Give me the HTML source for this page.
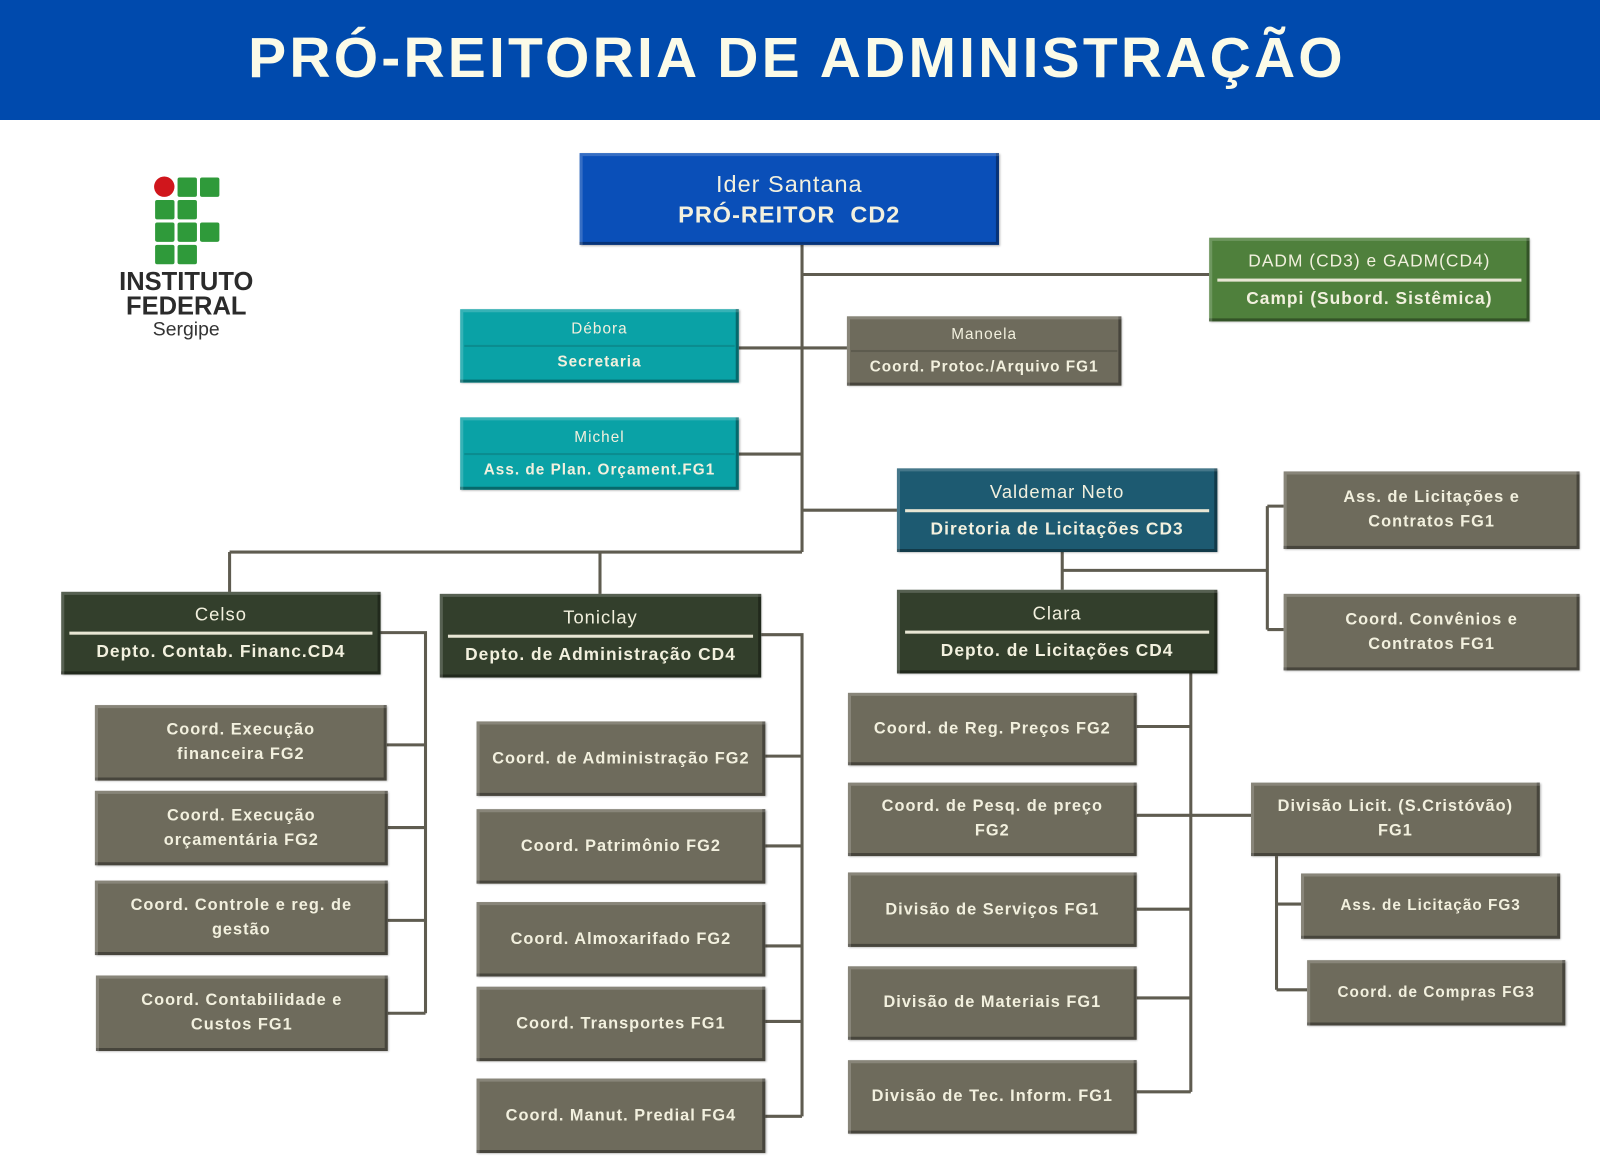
<!DOCTYPE html>
<html><head><meta charset="utf-8"><style>
body{margin:0;width:1600px;height:1156px;background:#fff;position:relative;overflow:hidden;font-family:"Liberation Sans",sans-serif}
.hdr{position:absolute;left:0;top:0;width:1600px;height:120px;background:#004aad}
.hdr div{position:absolute;left:0;right:6px;top:25px;text-align:center;color:#fbfbe8;font-size:57px;font-weight:bold;letter-spacing:3.2px}
.wrap{position:absolute;left:0;top:0;width:1568px;height:1133px;transform:scale(1.0204);transform-origin:0 0}
.b{position:absolute;box-sizing:border-box;color:#f2f0de;text-align:center;font-weight:bold;font-size:16px;letter-spacing:1px;display:flex;flex-direction:column;justify-content:center;line-height:24px;box-shadow:inset 3px 3px 0 rgba(255,255,255,.18),inset -3px -3px 0 rgba(0,0,0,.35),1px 1px 2px rgba(0,0,0,.3)}
.g{background:#6e6b5c}
.dg{background:#333f2c}
.t{background:#0aa2a6}
.bl{background:#0a4fb8}
.vb{background:#1d5a71}
.gr{background:#4f803c}
.n{font-weight:normal;font-size:18px}
.sep{height:3px;background:#e8e6d4;margin:5px 8px}
svg{position:absolute;left:0;top:0}
.sq{position:absolute;width:19px;height:19px;background:#2f9a3a;border-radius:2px}
</style></head><body>
<div class="hdr"><div>PRÓ-REITORIA DE ADMINISTRAÇÃO</div></div>
<div class="wrap">
<svg width="1568" height="1133"><g stroke="#5f5c50" stroke-width="3" fill="none">
<path d="M786 240V541M786 269H1185M724 341H830M724 445H786M786 500H879M225 541H786M225 541V580M588 541V582"/>
<path d="M373 620H417V993M379 730H417M380 811H417M380 902H417M380 993H417"/>
<path d="M746 622H786V1094M750 741H786M750 829H786M750 927H786M750 1001H786M750 1094H786"/>
<path d="M1041 541V578M1041 559H1242M1242 496V617M1242 496H1258M1242 617H1258"/>
<path d="M1167 660V1070M1114 712H1167M1114 891H1167M1114 978H1167M1114 1070H1167M1114 799H1226"/>
<path d="M1251 839V970M1251 886H1275M1251 970H1281"/>
</g></svg>

<div style="position:absolute;left:151px;top:173px;width:20px;height:20px;border-radius:50%;background:#d0161c"></div>
<div class="sq" style="left:174px;top:174px"></div><div class="sq" style="left:196px;top:174px"></div>
<div class="sq" style="left:152px;top:196px"></div><div class="sq" style="left:174px;top:196px"></div>
<div class="sq" style="left:152px;top:218px"></div><div class="sq" style="left:174px;top:218px"></div><div class="sq" style="left:196px;top:218px"></div>
<div class="sq" style="left:152px;top:240px"></div><div class="sq" style="left:174px;top:240px"></div>
<div style="position:absolute;left:100px;width:165px;top:264px;text-align:center;color:#2b2b2b;font-weight:bold;font-size:25px;line-height:24px">INSTITUTO<br>FEDERAL</div>
<div style="position:absolute;left:100px;width:165px;top:313px;text-align:center;color:#333;font-size:19px">Sergipe</div>

<div class="b bl" style="left:568px;top:150px;width:411px;height:90px;font-size:23px;line-height:30px"><div style="font-weight:normal">Ider Santana</div><div>PRÓ-REITOR&nbsp; CD2</div></div>
<div class="b gr" style="left:1185px;top:233px;width:314px;height:82px;font-size:17px"><div class="n" style="font-size:17px">DADM (CD3) e GADM(CD4)</div><div class="sep"></div><div>Campi (Subord. Sistêmica)</div></div>
<div class="b t" style="left:451px;top:303px;width:273px;height:72px;font-size:15px"><div class="n" style="font-size:15px">Débora</div><div class="sep" style="height:2px;background:#0b8c8f;margin:3px 4px"></div><div>Secretaria</div></div>
<div class="b g" style="left:830px;top:310px;width:269px;height:68px;font-size:15px"><div class="n" style="font-size:15px">Manoela</div><div class="sep" style="height:2px;background:#5d5b4e;margin:3px 4px"></div><div>Coord. Protoc./Arquivo FG1</div></div>
<div class="b t" style="left:451px;top:409px;width:273px;height:71px;font-size:15px"><div class="n" style="font-size:15px">Michel</div><div class="sep" style="height:2px;background:#0b8c8f;margin:3px 4px"></div><div>Ass. de Plan. Orçament.FG1</div></div>
<div class="b vb" style="left:879px;top:459px;width:314px;height:82px;font-size:17px"><div class="n">Valdemar Neto</div><div class="sep"></div><div>Diretoria de Licitações CD3</div></div>
<div class="b g" style="left:1258px;top:462px;width:290px;height:76px">Ass. de Licitações e<br>Contratos FG1</div>
<div class="b g" style="left:1258px;top:582px;width:290px;height:75px">Coord. Convênios e<br>Contratos FG1</div>
<div class="b dg" style="left:60px;top:580px;width:313px;height:81px;font-size:17px"><div class="n">Celso</div><div class="sep"></div><div>Depto. Contab. Financ.CD4</div></div>
<div class="b dg" style="left:431px;top:582px;width:315px;height:82px;font-size:17px"><div class="n">Toniclay</div><div class="sep"></div><div>Depto. de Administração CD4</div></div>
<div class="b dg" style="left:879px;top:578px;width:314px;height:82px;font-size:17px"><div class="n">Clara</div><div class="sep"></div><div>Depto. de Licitações CD4</div></div>

<div class="b g" style="left:93px;top:691px;width:286px;height:74px">Coord. Execução<br>financeira FG2</div>
<div class="b g" style="left:93px;top:775px;width:287px;height:73px">Coord. Execução<br>orçamentária FG2</div>
<div class="b g" style="left:93px;top:863px;width:287px;height:73px">Coord. Controle e reg. de<br>gestão</div>
<div class="b g" style="left:94px;top:956px;width:286px;height:74px">Coord. Contabilidade e<br>Custos FG1</div>

<div class="b g" style="left:467px;top:707px;width:283px;height:73px">Coord. de Administração FG2</div>
<div class="b g" style="left:467px;top:793px;width:283px;height:73px">Coord. Patrimônio FG2</div>
<div class="b g" style="left:467px;top:884px;width:283px;height:73px">Coord. Almoxarifado FG2</div>
<div class="b g" style="left:467px;top:967px;width:283px;height:73px">Coord. Transportes FG1</div>
<div class="b g" style="left:467px;top:1057px;width:283px;height:73px">Coord. Manut. Predial FG4</div>

<div class="b g" style="left:831px;top:679px;width:283px;height:71px">Coord. de Reg. Preços FG2</div>
<div class="b g" style="left:831px;top:767px;width:283px;height:72px">Coord. de Pesq. de preço<br>FG2</div>
<div class="b g" style="left:831px;top:855px;width:283px;height:73px">Divisão de Serviços FG1</div>
<div class="b g" style="left:831px;top:947px;width:283px;height:72px">Divisão de Materiais FG1</div>
<div class="b g" style="left:831px;top:1039px;width:283px;height:72px">Divisão de Tec. Inform. FG1</div>

<div class="b g" style="left:1226px;top:767px;width:283px;height:72px">Divisão Licit. (S.Cristóvão)<br>FG1</div>
<div class="b g" style="left:1275px;top:856px;width:254px;height:64px;font-size:15px">Ass. de Licitação FG3</div>
<div class="b g" style="left:1281px;top:941px;width:253px;height:64px;font-size:15px">Coord. de Compras FG3</div>
</div>
</body></html>
